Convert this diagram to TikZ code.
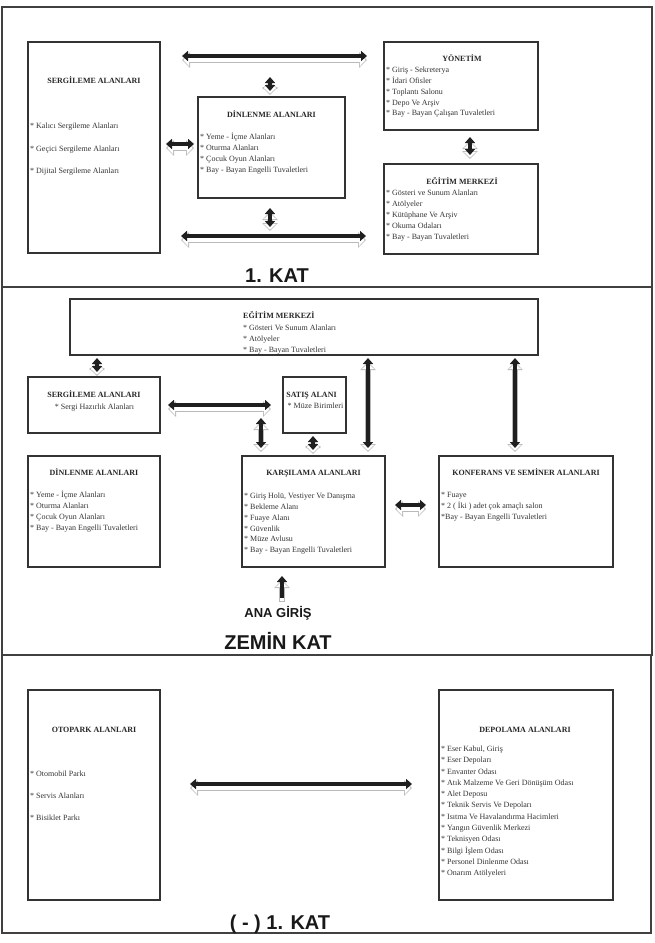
\documentclass[tikz,border=0pt]{standalone}
\usepackage{fontspec}
\setmainfont{Liberation Serif}
\newfontfamily\labelsans{Liberation Sans}
\usetikzlibrary{arrows.meta}
\tikzset{
  frame/.style={draw=black!75, line width=1.5pt},
  box/.style={draw=black!80, line width=1.1pt, inner sep=0pt},
  ttl/.style={font=\fontsize{8}{10}\selectfont\bfseries, text=black!85, inner sep=0pt, anchor=base},
  lst/.style={font=\fontsize{8}{10}\selectfont, text=black!80, inner sep=0pt, anchor=base west},
  sub/.style={font=\fontsize{8}{10}\selectfont, text=black!80, inner sep=0pt, anchor=base},
  biglabel/.style={font=\labelsans\bfseries\fontsize{20}{22}\selectfont, text=black!90, inner sep=0pt, anchor=base},
  midlabel/.style={font=\labelsans\bfseries\fontsize{13}{15}\selectfont, text=black!90, inner sep=0pt, anchor=base},
  mainarr/.style={draw=black!88, line width=3.4pt, >={Triangle[length=6pt,width=10pt]}},
  shadowout/.style={draw=gray!55, line width=5.4pt, >={Triangle[length=8pt,width=15pt]}},
  shadowin/.style={draw=white, line width=3.6pt, shorten <=1.3pt, shorten >=1.3pt, >={Triangle[length=5.8pt,width=12pt]}},
}
\newcommand{\linkarrow}[3]{%
  \draw[shadowout,#1] ([yshift=-4pt]#2) -- ([yshift=-4pt]#3);
  \draw[shadowin,#1] ([yshift=-4pt]#2) -- ([yshift=-4pt]#3);
  \draw[mainarr,#1] (#2) -- (#3);}
\newcommand{\itemlist}[5]{%
  \foreach \itm [count=\i] in {#5} {\node[lst] (#1-\i) at (#2, {#3+2.6+(\i-1)*#4}) {\itm};}}
\begin{document}
\begin{tikzpicture}[x=1pt, y=-1pt]
\useasboundingbox (0,0) rectangle (654,943);
% floor frames
\draw[frame] (2,7) rectangle (652,287);
\draw[frame] (2,287) rectangle (652,655);
\draw[frame] (2,655) rectangle (651,933);

% ---------------- 1. KAT ----------------
\node[box, minimum width=132pt, minimum height=211pt] (serg1) at (94,147.5) {};
\node[ttl] (serg1t) at (94,83.8) {SERGİLEME ALANLARI};
\itemlist{serg1l}{30}{126}{22.5}{* Kalıcı Sergileme Alanları, * Geçici Sergileme Alanları, * Dijital Sergileme Alanları}

\node[box, minimum width=147pt, minimum height=101pt] (dinl1) at (271.5,147.5) {};
\node[ttl] (dinl1t) at (271.5,117.8) {DİNLENME ALANLARI};
\itemlist{dinl1l}{200}{137}{11}{* Yeme - İçme Alanları, * Oturma Alanları, * Çocuk Oyun Alanları, * Bay - Bayan Engelli Tuvaletleri}

\node[box, minimum width=154pt, minimum height=88pt] (yon) at (461,86) {};
\node[ttl] (yont) at (462,61.8) {YÖNETİM};
\itemlist{yonl}{386}{70}{10.8}{* Giriş - Sekreterya, * İdari Ofisler, * Toplantı Salonu, * Depo Ve Arşiv, * Bay - Bayan Çalışan Tuvaletleri}

\node[box, minimum width=154pt, minimum height=90pt] (egit1) at (461,209) {};
\node[ttl] (egit1t) at (462,184.8) {EĞİTİM MERKEZİ};
\itemlist{egit1l}{386}{193}{10.9}{* Gösteri ve Sunum Alanları, * Atölyeler, * Kütüphane Ve Arşiv, * Okuma Odaları, * Bay - Bayan Tuvaletleri}

\coordinate (a1s) at (182,56);  \coordinate (a1e) at (367,56);
\coordinate (a2s) at (270,77);  \coordinate (a2e) at (270,91);
\coordinate (a3s) at (166,144); \coordinate (a3e) at (194,144);
\coordinate (a4s) at (270,208); \coordinate (a4e) at (270,227);
\coordinate (a5s) at (181,236); \coordinate (a5e) at (366,236);
\coordinate (a6s) at (470,137); \coordinate (a6e) at (470,155);
\linkarrow{<->}{a1s}{a1e}
\linkarrow{<->}{a2s}{a2e}
\linkarrow{<->}{a3s}{a3e}
\linkarrow{<->}{a4s}{a4e}
\linkarrow{<->}{a5s}{a5e}
\linkarrow{<->}{a6s}{a6e}
\node[biglabel] (kat1) at (277,282.5) {1. KAT};

% ---------------- ZEMIN KAT ----------------
\node[box, minimum width=468pt, minimum height=56pt] (egit2) at (304,327) {};
\node[ttl, anchor=base west] (egit2t) at (243,318.8) {EĞİTİM MERKEZİ};
\itemlist{egit2l}{243}{328}{10.7}{* Gösteri Ve Sunum Alanları, * Atölyeler, * Bay - Bayan Tuvaletleri}

\node[box, minimum width=132pt, minimum height=56pt] (serg2) at (94,405) {};
\node[ttl] (serg2t) at (94,397.8) {SERGİLEME ALANLARI};
\node[sub] (serg2s) at (94.5,409.6) {* Sergi Hazırlık Alanları};

\node[box, minimum width=63pt, minimum height=56pt] (satis) at (314.5,405) {};
\node[ttl] (satist) at (311.5,397.8) {SATIŞ ALANI};
\node[sub] (satiss) at (315.5,408.6) {* Müze Birimleri};

\node[box, minimum width=132pt, minimum height=111pt] (dinl2) at (94,511.5) {};
\node[ttl] (dinl2t) at (94,475.8) {DİNLENME ALANLARI};
\itemlist{dinl2l}{30}{495}{11}{* Yeme - İçme Alanları, * Oturma Alanları, * Çocuk Oyun Alanları, * Bay - Bayan Engelli Tuvaletleri}

\node[box, minimum width=143pt, minimum height=111pt] (kars) at (313.5,511.5) {};
\node[ttl] (karst) at (313.5,475.8) {KARŞILAMA ALANLARI};
\itemlist{karsl}{244}{496}{10.8}{{* Giriş Holü, Vestiyer Ve Danışma}, *  Bekleme Alanı, * Fuaye Alanı, * Güvenlik, * Müze Avlusu, * Bay - Bayan Engelli Tuvaletleri}

\node[box, minimum width=174pt, minimum height=111pt] (konf) at (526,511.5) {};
\node[ttl] (konft) at (526,475.8) {KONFERANS VE SEMİNER ALANLARI};
\itemlist{konfl}{441}{495}{11}{* Fuaye, * 2 ( İki ) adet çok amaçlı salon, *Bay - Bayan Engelli Tuvaletleri}

\coordinate (b1s) at (97,358);  \coordinate (b1e) at (97,372);
\coordinate (b2s) at (168,405); \coordinate (b2e) at (271,405);
\coordinate (b3s) at (261,418); \coordinate (b3e) at (261,448);
\coordinate (b4s) at (313,436); \coordinate (b4e) at (313,450);
\coordinate (b5s) at (368,358); \coordinate (b5e) at (368,448);
\coordinate (b6s) at (515,358); \coordinate (b6e) at (515,448);
\coordinate (b7s) at (395,505); \coordinate (b7e) at (426,505);
\coordinate (b8s) at (282,598); \coordinate (b8e) at (282,576);
\linkarrow{<->}{b1s}{b1e}
\linkarrow{<->}{b2s}{b2e}
\linkarrow{<->}{b3s}{b3e}
\linkarrow{<->}{b4s}{b4e}
\linkarrow{<->}{b5s}{b5e}
\linkarrow{<->}{b6s}{b6e}
\linkarrow{<->}{b7s}{b7e}
\linkarrow{->}{b8s}{b8e}
\node[midlabel] (anagiris) at (278,617.7) {ANA GİRİŞ};
\node[biglabel] (zemin) at (278,649) {ZEMİN KAT};

% ---------------- (-) 1. KAT ----------------
\node[box, minimum width=132pt, minimum height=210pt] (oto) at (94,795) {};
\node[ttl] (otot) at (94,732.8) {OTOPARK ALANLARI};
\itemlist{otol}{30}{774}{22}{* Otomobil Parkı, * Servis Alanları, * Bisiklet Parkı}

\node[box, minimum width=174pt, minimum height=210pt] (dep) at (526,795) {};
\node[ttl] (dept) at (525,732.8) {DEPOLAMA ALANLARI};
\itemlist{depl}{441}{749}{11.27}{{* Eser Kabul, Giriş}, * Eser Depoları, * Envanter Odası, * Atık Malzeme Ve Geri Dönüşüm Odası, * Alet Deposu, * Teknik Servis Ve Depoları, * Isıtma Ve Havalandırma Hacimleri, * Yangın Güvenlik Merkezi, * Teknisyen Odası, * Bilgi İşlem Odası, * Personel Dinlenme Odası, * Onarım Atölyeleri}

\coordinate (c1s) at (190,784); \coordinate (c1e) at (412,784);
\linkarrow{<->}{c1s}{c1e}
\node[biglabel] (kateksi) at (280,929) {( - ) 1. KAT};
\end{tikzpicture}
\end{document}
